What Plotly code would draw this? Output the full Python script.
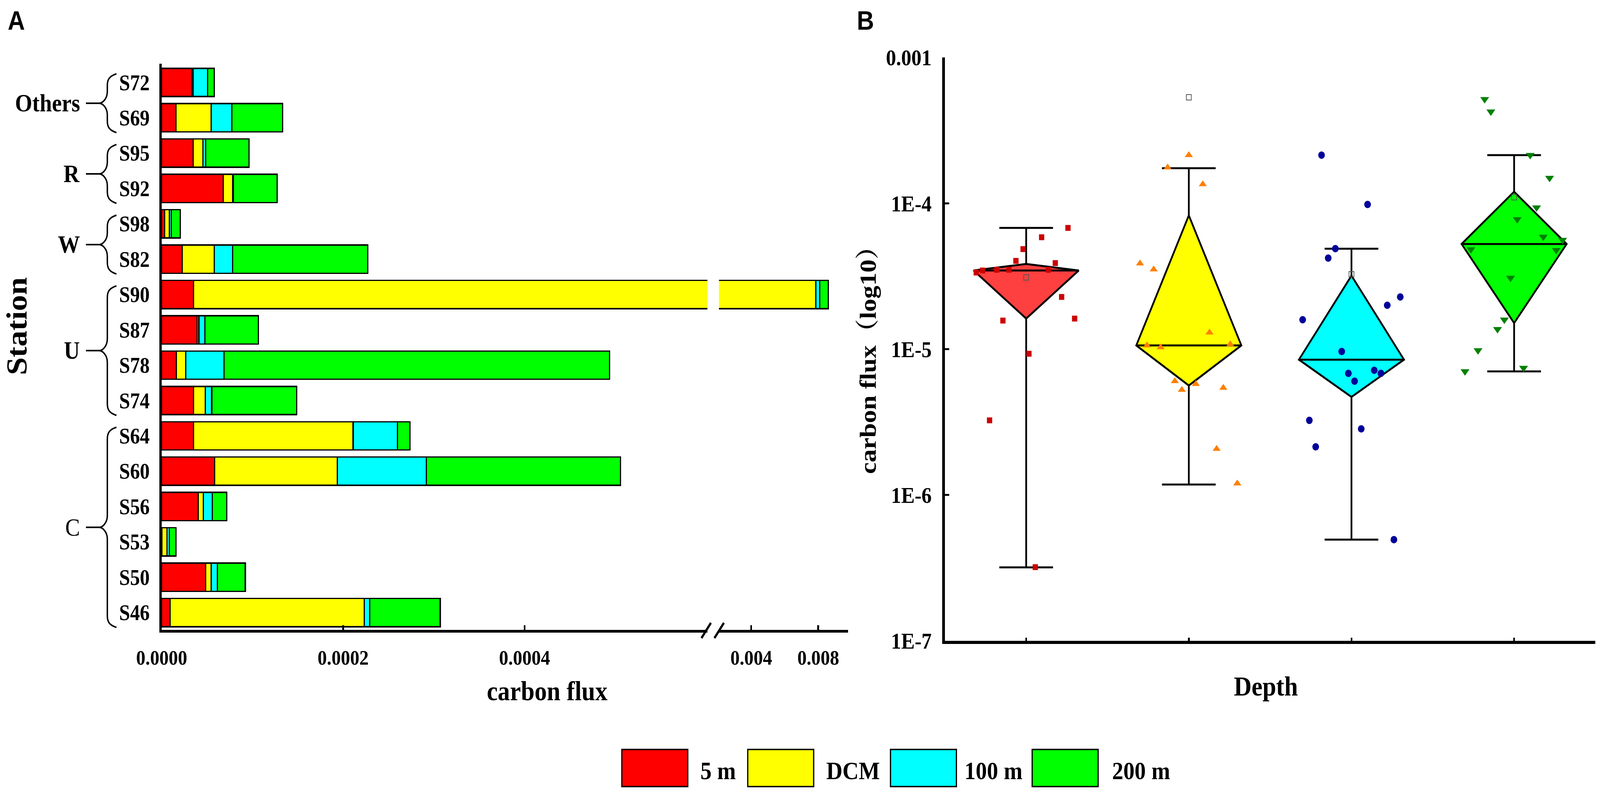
import plotly.graph_objects as go

W, H = 4562, 2032

# ---------------- data ----------------
stations = ["S72", "S69", "S95", "S92", "S98", "S82", "S90", "S87",
            "S78", "S74", "S64", "S60", "S56", "S53", "S50", "S46"]
group_names = ["Others", "R", "W", "U", "C"]
group_first = ["S72", "S95", "S98", "S90", "S64"]
group_last = ["S69", "S92", "S82", "S74", "S46"]

depths = ["5 m", "DCM", "100 m", "200 m"]
flux_5m = [3.35e-5, 1.57e-5, 3.46e-5, 6.78e-5, 3.25e-6, 2.28e-5, 3.50e-5, 3.89e-5,
           1.62e-5, 3.50e-5, 3.50e-5, 5.85e-5, 4.03e-5, 3.2e-7, 4.85e-5, 9.3e-6]
flux_dcm = [1.2e-6, 3.87e-5, 1.08e-5, 1.06e-5, 5.26e-6, 3.52e-5, 7.83e-3, 2.07e-6,
            1.03e-5, 1.30e-5, 1.76e-4, 1.35e-4, 5.77e-6, 5.43e-6, 6.03e-6, 2.14e-4]
flux_100m = [1.59e-5, 2.28e-5, 3.25e-6, 4.94e-7, 2.14e-6, 2.0e-5, 2.14e-4, 6.82e-6,
             4.21e-5, 7.16e-6, 4.89e-5, 9.82e-5, 9.64e-6, 2.84e-6, 6.82e-6, 6.03e-6]
flux_200m = [7.43e-6, 5.60e-5, 4.77e-5, 4.83e-5, 9.8e-6, 1.49e-4, 5.17e-4, 5.88e-5,
             4.25e-4, 9.35e-5, 1.37e-5, 2.14e-4, 1.59e-5, 7.03e-6, 3.08e-5, 7.77e-5]

# horizontal spread of the points in panel B
jit_5m = [-0.307, -0.143, -0.268, 0.257, -0.225, 0.218, -0.181, 0.179,
          0.298, -0.106, 0.136, 0.095, -0.063, 0.056, -0.019, 0.017]
jit_dcm = [0.298, -0.300, 0.255, -0.257, -0.043, -0.216, 0.0, 0.171,
           -0.173, 0.127, -0.130, 0.086, 0.043, 0.212, -0.086, 0.0]
jit_100m = [-0.300, 0.300, -0.259, 0.261, -0.220, 0.220, -0.184, -0.019,
            -0.143, 0.140, -0.099, 0.099, -0.060, 0.060, 0.181, 0.019]
jit_200m = [0.058, 0.298, 0.259, -0.266, -0.222, 0.218, -0.181, 0.179,
            -0.143, 0.138, -0.102, 0.099, -0.060, -0.302, -0.022, 0.019]

# diamond-box statistics for panel B
whisker_hi = [6.78e-5, 1.74e-4, 4.88e-5, 2.14e-4]
box_q3 = [3.84e-5, 8.26e-5, 3.19e-5, 1.20e-4]
box_median = [3.46e-5, 1.06e-5, 8.47e-6, 5.26e-5]
box_q1 = [1.62e-5, 5.63e-6, 4.70e-6, 1.51e-5]
whisker_lo = [3.19e-7, 1.18e-6, 4.94e-7, 7.03e-6]
box_mean = [3.10e-5, 5.33e-4, 3.26e-5, 1.10e-4]

left_ticks = [0.0, 0.0002, 0.0004]
left_ticktext = ["0.0000", "0.0002", "0.0004"]
break_ticks = [0.004, 0.008]
break_ticktext = ["0.004", "0.008"]
log_ticks = [1e-7, 1e-6, 1e-5, 1e-4, 1e-3]
log_ticktext = ["1E-7", "1E-6", "1E-5", "1E-4", "0.001"]

series = [flux_5m, flux_dcm, flux_100m, flux_200m]
jitters = [jit_5m, jit_dcm, jit_100m, jit_200m]

# ---------------- style ----------------
bar_colors = ["#FF0000", "#FFFF00", "#00FFFF", "#00FF00"]
box_fill = ["#FF4040", "#FFFF00", "#00FFFF", "#00FF00"]
point_colors = ["#CC0000", "#FF7F00", "#000099", "#008000"]
point_symbols = ["square", "triangle-up", "circle", "triangle-down"]
point_sizes = [15, 20, 19, 22]
SERIF = "Liberation Serif, Times New Roman, serif"
SANS = "Liberation Sans, Arial, sans-serif"


def px(x):
    return x / W


def py(y):
    return 1 - y / H


# layout geometry (pixels of the 4562x2032 picture)
A_X0, A_X1 = 461, 2017
A2_X0, A2_X1 = 2050, 2418
A_Y0, A_Y1 = 163, 1612
Y_RANGE = [15.49, -0.53]
B_X0, B_X1 = 2694, 4549
B_Y0, B_Y1 = 147, 1640

fig = go.Figure()

# ---------------- panel A: stacked bars ----------------
for xa in ["x", "x2"]:
    for name, vals, col in zip(depths, series, bar_colors):
        fig.add_trace(go.Bar(
            y=stations, x=vals, orientation="h", name=name,
            marker=dict(color=col, line=dict(color="black", width=3.5)),
            xaxis=xa, yaxis="y", showlegend=False))

# ---------------- panel B: diamond boxes ----------------
half_w = 0.323
cap_w = 0.165
for i in range(4):
    c = i + 1
    fig.add_trace(go.Scatter(
        x=[c, c - half_w, c, c + half_w, c],
        y=[box_q1[i], box_median[i], box_q3[i], box_median[i], box_q1[i]],
        mode="lines", fill="toself", fillcolor=box_fill[i],
        line=dict(color="black", width=5), xaxis="x3", yaxis="y2",
        showlegend=False, hoverinfo="skip"))
    fig.add_trace(go.Scatter(
        x=[c - half_w, c + half_w, None,
           c, c, None, c - cap_w, c + cap_w, None,
           c, c, None, c - cap_w, c + cap_w],
        y=[box_median[i], box_median[i], None,
           box_q3[i], whisker_hi[i], None, whisker_hi[i], whisker_hi[i], None,
           box_q1[i], whisker_lo[i], None, whisker_lo[i], whisker_lo[i]],
        mode="lines", line=dict(color="black", width=5),
        xaxis="x3", yaxis="y2", showlegend=False, hoverinfo="skip"))
    fig.add_trace(go.Scatter(
        x=[c], y=[box_mean[i]], mode="markers",
        marker=dict(symbol="square-open", size=14, color="#555555",
                    line=dict(width=2)),
        xaxis="x3", yaxis="y2", showlegend=False))
for i in range(4):
    c = i + 1
    fig.add_trace(go.Scatter(
        x=[c + j for j in jitters[i]], y=series[i], mode="markers",
        name=depths[i],
        marker=dict(symbol=point_symbols[i], size=point_sizes[i],
                    color=point_colors[i], line=dict(width=0)),
        xaxis="x3", yaxis="y2", showlegend=False))

# ---------------- axes ----------------
axis_common = dict(showgrid=False, zeroline=False, linecolor="black",
                   showline=True, automargin=False)
bold_tick = dict(family=SERIF, size=53, color="black", weight="bold")

fig.update_layout(
    width=W, height=H, autosize=False, margin=dict(l=0, r=0, t=0, b=0, pad=0),
    paper_bgcolor="white", plot_bgcolor="rgba(0,0,0,0)",
    barmode="stack", bargap=0.2, showlegend=False,
    xaxis=dict(domain=[px(A_X0), px(A_X1)], range=[0, 0.0006015],
               anchor="y", tickvals=left_ticks, ticktext=left_ticktext,
               ticks="inside", ticklen=12, tickwidth=5, tickcolor="black",
               linewidth=7, tickfont=bold_tick, ticklabelstandoff=18,
               **axis_common),
    xaxis2=dict(domain=[px(A2_X0), px(A2_X1)], range=[0.002073, 0.00978],
                anchor="y", tickvals=break_ticks, ticktext=break_ticktext,
                ticks="inside", ticklen=12, tickwidth=5, tickcolor="black",
                linewidth=7, tickfont=bold_tick, ticklabelstandoff=18,
                **axis_common),
    yaxis=dict(domain=[py(A_Y1), py(A_Y0)], range=Y_RANGE, anchor="x",
               type="category", categoryorder="array", categoryarray=stations,
               ticks="", linewidth=7, ticklabelstandoff=16,
               tickfont=dict(family=SERIF, size=56, color="black", weight="bold"),
               **axis_common),
    xaxis3=dict(domain=[px(B_X0), px(B_X1)], range=[0.5, 4.5], anchor="y2",
                tickvals=[1, 2, 3, 4], showticklabels=False,
                ticks="inside", ticklen=8, tickwidth=5, tickcolor="black",
                linewidth=8, **axis_common),
    yaxis2=dict(domain=[py(B_Y1), py(B_Y0)], type="log", range=[-7, -3],
                anchor="x3", tickvals=log_ticks, ticktext=log_ticktext,
                ticks="inside", ticklen=12, tickwidth=5, tickcolor="black",
                linewidth=8, ticklabelstandoff=18,
                tickfont=dict(family=SERIF, size=58, color="black", weight="bold"),
                **axis_common),
)

# ---------------- annotations ----------------
ann = []


def add_text(text, x, y, size, family=SERIF, weight="bold", angle=0,
             xanchor="center"):
    ann.append(dict(text=text, x=px(x), y=py(y), xref="paper", yref="paper",
                    showarrow=False, xanchor=xanchor, yanchor="middle",
                    textangle=angle,
                    font=dict(family=family, size=size, color="black",
                              weight=weight)))


add_text("A", 46, 52, 68, family=SANS)
add_text("B", 2467, 52, 68, family=SANS)
add_text("Station", 48, 835, 82, angle=-90)
add_text("carbon flux", 1560, 1768, 70)
add_text("Depth", 3609, 1756, 70)
add_text("carbon flux（log10）", 2474, 905, 67,
         family="Liberation Serif, Noto Serif CJK SC, Noto Sans CJK SC, serif",
         angle=-90)

# category index -> pixel y
span = Y_RANGE[0] - Y_RANGE[1]


def cat_y(idx):
    return A_Y0 + (idx - Y_RANGE[1]) / span * (A_Y1 - A_Y0)


shapes = []
for gname, first, last in zip(group_names, group_first, group_last):
    i0, i1 = stations.index(first), stations.index(last)
    ytop, ybot = cat_y(i0) - 22, cat_y(i1) + 38
    ymid = (ytop + ybot) / 2
    add_text(gname, 230, ymid, 63, weight="normal" if gname == "C" else "bold",
             xanchor="right")
    x_tip, x_sp, x_mid, x_dash, r = 332, 306, 283, 245, 30
    pts = [
        ("M", [(x_tip, ytop)]),
        ("C", [(x_sp + 6, ytop + 6), (x_sp, ytop + 14), (x_sp, ytop + r)]),
        ("L", [(x_sp, ymid - r)]),
        ("C", [(x_sp, ymid - 10), (x_mid + 8, ymid), (x_mid, ymid)]),
        ("C", [(x_mid + 8, ymid), (x_sp, ymid + 10), (x_sp, ymid + r)]),
        ("L", [(x_sp, ybot - r)]),
        ("C", [(x_sp, ybot - 14), (x_sp + 6, ybot - 6), (x_tip, ybot)]),
        ("M", [(x_mid, ymid)]),
        ("L", [(x_dash, ymid)]),
    ]
    path = " ".join(cmd + " " + " ".join(f"{px(a):.6f},{py(b):.6f}" for a, b in p)
                    for cmd, p in pts)
    shapes.append(dict(type="path", path=path, xref="paper", yref="paper",
                       line=dict(color="black", width=4)))

# axis break marks
for (xa, ya, xb, yb) in [(2000, 1633, 2027, 1594), (2037, 1633, 2064, 1594)]:
    shapes.append(dict(type="line", xref="paper", yref="paper",
                       x0=px(xa), y0=py(ya), x1=px(xb), y1=py(yb),
                       line=dict(color="black", width=6)))

# legend
legend_box_x = [1773, 2132, 2539, 2943]
legend_text_x = [1995, 2354, 2748, 3169]
for name, col, bx, tx in zip(depths, bar_colors, legend_box_x, legend_text_x):
    shapes.append(dict(type="rect", xref="paper", yref="paper",
                       x0=px(bx), x1=px(bx + 188), y0=py(2013), y1=py(1918),
                       fillcolor=col, line=dict(color="black", width=3.5)))
    add_text(name, tx, 1972, 64, xanchor="left")

fig.update_layout(annotations=ann, shapes=shapes)

# map the 4562x2032 figure exactly onto the browser viewport
fit_js = (
    "var gd=document.getElementById('{plot_id}');"
    "document.documentElement.style.margin='0';document.body.style.margin='0';"
    "document.documentElement.style.overflow='hidden';"
    "document.body.style.overflow='hidden';"
    "var sx=window.innerWidth/%d, sy=window.innerHeight/%d;"
    "gd.style.transformOrigin='0 0';"
    "gd.style.transform='scale('+sx+','+sy+')';" % (W, H)
)
fig.write_html("out.html", config={"displayModeBar": False}, post_script=fit_js)
